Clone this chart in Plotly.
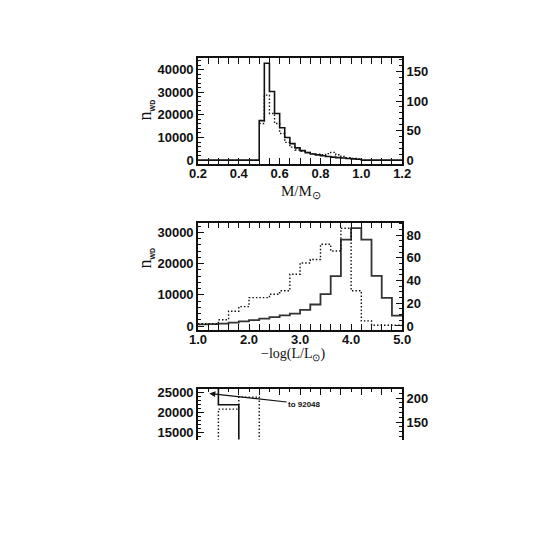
import numpy as np
import plotly.graph_objects as go

# ---------------- data ----------------
# Panel 1: mass distribution, bins of 0.025 from 0.5 to 1.0
mass_lo, mass_hi, mass_bin = 0.5, 1.0, 0.025
mass_solid = [17450, 42800, 30300, 20600, 14300, 10000, 7300, 5400, 4200, 3300,
              2700, 2300, 1900, 1600, 1300, 1100, 900, 700, 550, 400]
mass_dotted = [62, 110, 79, 62, 45, 30, 22, 17, 15, 13,
               11, 10, 9, 11, 13, 9, 6, 4, 3, 2]

# Panel 2: luminosity distribution, bins of 0.2 from 1.0 to 5.0
lum_lo, lum_hi, lum_bin = 1.0, 5.0, 0.2
lum_solid = [500, 600, 780, 1080, 1480, 1900, 2350, 2850, 3380, 4000,
             5200, 6900, 10200, 16000, 27700, 31400, 27700, 16100, 9000, 3350]
lum_dotted = [2, 2, 5.5, 13, 17, 25, 25, 28, 31, 45.5,
              55.5, 58.5, 72, 66, 86, 31, 4.5, 0.7, 0.7, 0.7]

# Panel 3 (cut off at the bottom of the picture), bins of width 2
p3_lo, p3_bin = 0.0, 2.0
p3_solid = [92048, 22000, 8000]
p3_dotted = [60, 177, 202, 80]
p3_note = "to 92048"

W, H = 558, 559
OFF = 8  # default page margin of the html body
def fx(px): return (px - OFF) / W
def fy(py): return 1 - (py - OFF) / H

X0, X1 = 195, 406
P1 = (55.7, 163.0)
P2 = (222.3, 331.0)
P3 = (390.7, 442.0)

def steps(lo, width, vals, pad_left=None, pad_right=None):
    edges = lo + width * np.arange(len(vals) + 1)
    x = list(edges)
    y = list(vals) + [vals[-1]]
    if pad_right is not None:
        y[-1] = 0
        x.append(pad_right)
        y.append(0)
    if pad_left is not None:
        x = [pad_left] + x
        y = [0] + y
    return x, y

fig = go.Figure()
solid = dict(color="#111", width=1.6)
dotted = dict(color="#111", width=1.4, dash="1.5px,2px")

x, y = steps(mass_lo, mass_bin, mass_solid, pad_left=0.2, pad_right=1.2)
fig.add_trace(go.Scatter(x=x, y=y, mode="lines", line=solid, line_shape="hv", xaxis="x", yaxis="y"))
x, y = steps(mass_lo, mass_bin, mass_dotted)
fig.add_trace(go.Scatter(x=x, y=y, mode="lines", line=dotted, line_shape="hv", xaxis="x", yaxis="y2"))

x, y = steps(lum_lo, lum_bin, lum_solid)
fig.add_trace(go.Scatter(x=x, y=y, mode="lines", line=dict(color="#333", width=1.8), line_shape="hv", xaxis="x2", yaxis="y3"))
x, y = steps(lum_lo, lum_bin, lum_dotted)
fig.add_trace(go.Scatter(x=x, y=y, mode="lines", line=dotted, line_shape="hv", xaxis="x2", yaxis="y4"))

x, y = steps(p3_lo, p3_bin, p3_solid)
fig.add_trace(go.Scatter(x=x, y=y, mode="lines", line=solid, line_shape="hv", xaxis="x3", yaxis="y5"))
x, y = steps(p3_lo, p3_bin, p3_dotted)
fig.add_trace(go.Scatter(x=x, y=y, mode="lines", line=dotted, line_shape="hv", xaxis="x3", yaxis="y6"))

tickfont = dict(family="Liberation Sans, Arial, sans-serif", size=13, color="#111", weight="bold")
common = dict(showline=True, linecolor="#111", linewidth=1.5, ticks="inside", ticklen=6,
              tickwidth=1.2, tickcolor="#111", showgrid=False, zeroline=False,
              tickfont=tickfont, tickformat="d")
minor = lambda d: dict(dtick=d, ticks="inside", ticklen=3, tickwidth=1, tickcolor="#111", showgrid=False)

def ydom(p): return [fy(p[1]), fy(p[0])]
xdom = [fx(X0), fx(X1)]
xc = dict(common, tickformat=".1f", ticklabelstandoff=-3)

fig.update_layout(
    width=W, height=H, margin=dict(l=0, r=0, t=0, b=0),
    paper_bgcolor="white", plot_bgcolor="white", showlegend=False,
    xaxis=dict(domain=xdom, anchor="y", range=[0.2, 1.2], dtick=0.2, tick0=0.2,
               mirror="allticks", minor=minor(0.05), **xc),
    yaxis=dict(domain=ydom(P1), anchor="x", range=[-1745, 45060], dtick=10000, minor=minor(2000), **common),
    yaxis2=dict(domain=ydom(P1), anchor="x", overlaying="y", side="right", range=[-6.7, 172.7],
                dtick=50, minor=minor(10), **common),
    xaxis2=dict(domain=xdom, anchor="y3", range=[1.0, 5.0], dtick=1.0, tick0=1.0,
                mirror="allticks", minor=minor(0.2), **xc),
    yaxis3=dict(domain=ydom(P2), anchor="x2", range=[-1267, 33170], dtick=10000, minor=minor(2000), **common),
    yaxis4=dict(domain=ydom(P2), anchor="x2", overlaying="y3", side="right", range=[-3.5, 91],
                dtick=20, minor=minor(5), **common),
    xaxis3=dict(domain=xdom, anchor="y5", side="top", range=[0, 20], dtick=2, tick0=0,
                showticklabels=False, minor=minor(1), **common),
    yaxis5=dict(domain=ydom(P3), anchor="x3", range=[13210, 26000], dtick=5000, minor=minor(1000), **common),
    yaxis6=dict(domain=ydom(P3), anchor="x3", overlaying="y5", side="right", range=[113.9, 219],
                dtick=50, minor=minor(10), **common),
)

serif = "Liberation Serif, Times New Roman, serif"
sub_style = "font-size:7px;font-weight:bold;font-family:Liberation Sans"
nwd = f'n<sub><span style="{sub_style}">WD</span></sub>'
lab = dict(xref="paper", yref="paper", showarrow=False, xanchor="center", yanchor="middle")
ann = []
ann.append(dict(text="M/M<sub>⊙</sub>", x=fx(301), y=fy(191),
                font=dict(family=serif, size=15, color="#111"), **lab))
ann.append(dict(text="−log(L/L<sub>⊙</sub>)", x=fx(293), y=fy(356),
                font=dict(family=serif, size=14, color="#111"), **lab))
ann.append(dict(text=nwd, x=fx(141), y=fy(108), textangle=-90,
                font=dict(family=serif, size=18, color="#111"), **lab))
ann.append(dict(text=nwd, x=fx(141), y=fy(258), textangle=-90,
                font=dict(family=serif, size=18, color="#111"), **lab))
# arrow pointing to the off-scale first bin of panel 3
ann.append(dict(text=p3_note, x=1.11, y=24850, xref="x3", yref="y5",
                ax=10.45, ay=22185, axref="x3", ayref="y5",
                showarrow=True, arrowhead=2, arrowsize=1, arrowwidth=1.2, arrowcolor="#111",
                font=dict(family="Liberation Sans, Arial, sans-serif", size=8, color="#111", weight="bold")))
fig.update_layout(annotations=ann)

fig.write_html("out.html")
